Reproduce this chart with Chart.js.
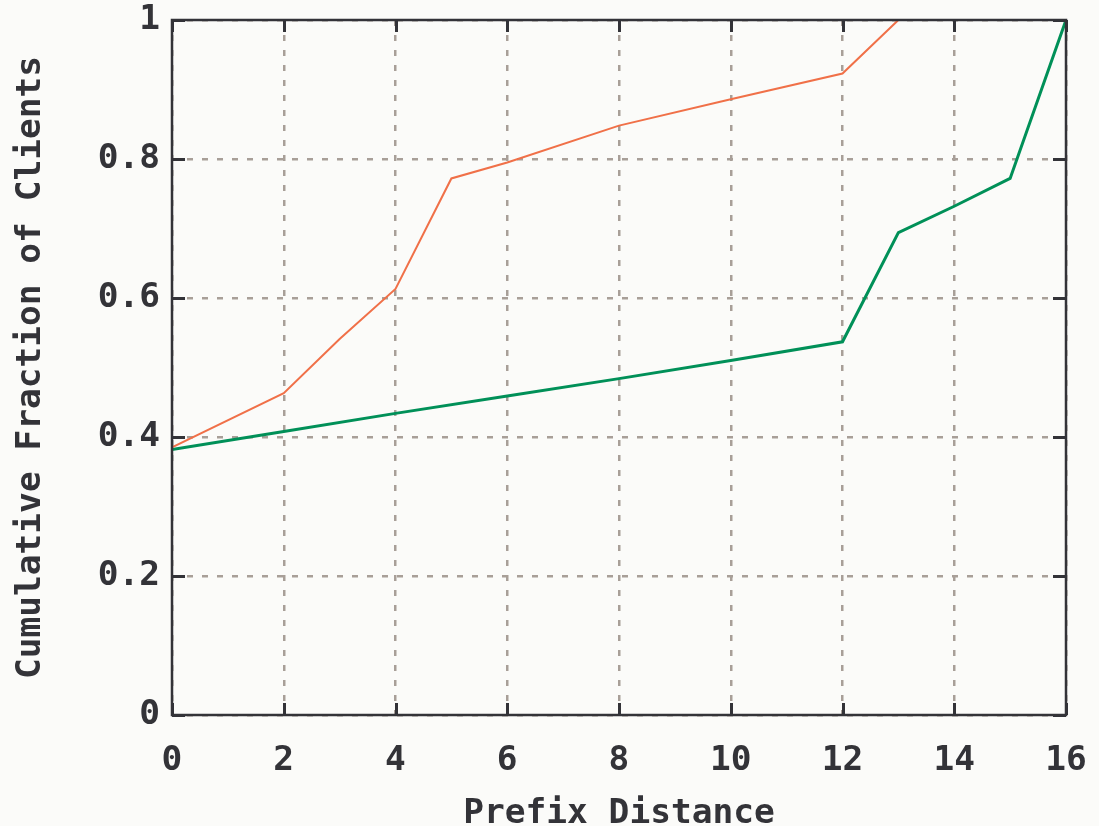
<!DOCTYPE html>
<html>
<head>
<meta charset="utf-8">
<script src="https://cdn.jsdelivr.net/npm/chart.js@4.4.0/dist/chart.umd.min.js"></script>
<style>
  html, body { margin: 0; padding: 0; background: #fbfbf9; }
  #wrap { width: 1099px; height: 826px; position: relative; }
</style>
</head>
<body>
<div id="wrap"><canvas id="c"></canvas></div>
<script>
// Data
const xTicks = [0, 2, 4, 6, 8, 10, 12, 14, 16];
const yTicks = [0, 0.2, 0.4, 0.6, 0.8, 1];
const yTickLabels = ["0", "0.2", "0.4", "0.6", "0.8", "1"];

const orangeX = [0, 2, 3, 4, 5, 6, 8, 10, 12, 13];
const orangeY = [0.385, 0.463, 0.541, 0.613, 0.772, 0.795, 0.848, 0.886, 0.923, 1.0];

const greenX = [0, 2, 4, 6, 8, 10, 12, 13, 14, 15, 16];
const greenY = [0.382, 0.408, 0.434, 0.459, 0.484, 0.510, 0.537, 0.694, 0.732, 0.772, 1.0];

const xTitle = "Prefix Distance";
const yTitle = "Cumulative Fraction of Clients";

const INK = "#333338";
const GRID = "#a89f98";
const FONT = { family: "'DejaVu Sans Mono', 'Liberation Mono', monospace", size: 34.5, weight: "bold", lineHeight: 1 };

const toPts = (xs, ys) => xs.map((x, i) => ({ x: x, y: ys[i] }));

const framePlugin = {
  id: "frame",
  afterDatasetsDraw(chart) {
    const { ctx, chartArea: a, scales } = chart;
    ctx.save();
    ctx.strokeStyle = INK;
    ctx.lineWidth = 3;
    ctx.beginPath();
    xTicks.forEach(v => {
      const px = Math.round(scales.x.getPixelForValue(v)) + 0.5;
      ctx.moveTo(px, a.bottom); ctx.lineTo(px, a.bottom - 12);
      ctx.moveTo(px, a.top); ctx.lineTo(px, a.top + 12);
    });
    yTicks.forEach(v => {
      const py = Math.round(scales.y.getPixelForValue(v)) + 0.5;
      ctx.moveTo(a.left, py); ctx.lineTo(a.left + 13, py);
      ctx.moveTo(a.right, py); ctx.lineTo(a.right - 13, py);
    });
    ctx.stroke();
    ctx.lineWidth = 2.5;
    ctx.strokeRect(a.left, a.top, a.right - a.left, a.bottom - a.top);
    ctx.restore();
  }
};

new Chart(document.getElementById("c"), {
  type: "line",
  data: {
    datasets: [
      { data: toPts(orangeX, orangeY), borderColor: "#f07048", borderWidth: 2, pointRadius: 0, tension: 0, fill: false },
      { data: toPts(greenX, greenY), borderColor: "#009058", borderWidth: 3, pointRadius: 0, tension: 0, fill: false }
    ]
  },
  options: {
    responsive: true,
    maintainAspectRatio: false,
    animation: false,
    events: [],
    layout: { padding: { top: 20, right: 33, left: 0, bottom: 0 } },
    plugins: { legend: { display: false }, tooltip: { enabled: false } },
    scales: {
      x: {
        type: "linear",
        min: 0, max: 16,
        afterBuildTicks: s => { s.ticks = xTicks.map(v => ({ value: v })); },
        afterFit: s => { s.height = 111; s.paddingLeft = 0; s.paddingRight = 0; },
        ticks: { color: INK, font: FONT, padding: 29, maxRotation: 0, autoSkip: false, callback: v => String(v) },
        grid: { color: GRID, lineWidth: 2.5, drawTicks: false, tickLength: 0 },
        border: { display: false, dash: [6, 9] },
        title: { display: true, text: xTitle, color: INK, font: FONT, padding: { top: 0, bottom: -5 } }
      },
      y: {
        type: "linear",
        min: 0, max: 1,
        afterBuildTicks: s => { s.ticks = yTicks.map(v => ({ value: v })); },
        afterFit: s => { s.width = 172; s.paddingTop = 0; s.paddingBottom = 0; },
        ticks: { color: INK, font: FONT, padding: 12, autoSkip: false, callback: (v) => yTickLabels[yTicks.indexOf(Math.round(v * 10) / 10)] },
        grid: { color: GRID, lineWidth: 2.5, drawTicks: false, tickLength: 0 },
        border: { display: false, dash: [6, 9] },
        title: { display: true, text: yTitle, color: INK, font: FONT, padding: { top: 14, bottom: 0 } }
      }
    }
  },
  plugins: [framePlugin]
});
</script>
</body>
</html>
